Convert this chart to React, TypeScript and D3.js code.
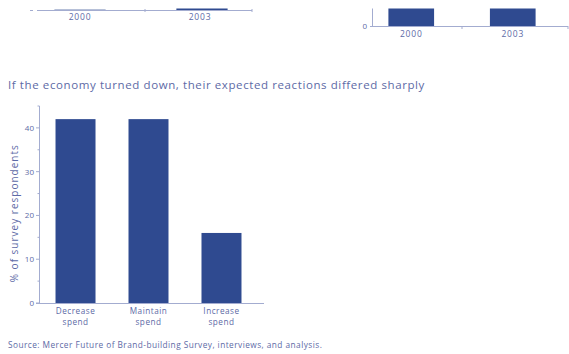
import React from "react";
import * as d3 from "d3";

const categories = ["Decrease spend", "Maintain spend", "Increase spend"];
const values = [42, 42, 16];
const yTicks = [0, 10, 20, 30, 40];
const yMinorTicks = [5, 15, 25, 35, 45];

const topYears = ["2000", "2003"];
const topLeftValues = [0.5, 1];
const topRightValues = [30, 30];

const title = "If the economy turned down, their expected reactions differed sharply";
const yLabel = "% of survey respondents";
const source = "Source: Mercer Future of Brand-building Survey, interviews, and analysis.";

const BAR = "#2f4a90";
const AXIS = "#a3acd0";
const TEXT = "#5d6aa6";
const FONT = "'Open Sans', 'Noto Sans', sans-serif";

export default function App() {
  const W = 569, H = 354;
  // main chart
  const x = d3.scaleBand<string>().domain(categories).range([38, 259]).paddingInner(0.452).paddingOuter(0.24);
  const y = d3.scaleLinear().domain([0, 45]).range([303, 106]);

  // top-left chart
  const xl = d3.scaleBand<string>().domain(topYears).range([30, 252]).paddingInner(0.58).paddingOuter(0.2);
  // top-right chart
  const xr = d3.scaleBand<string>().domain(topYears).range([361, 563]).paddingInner(0.55).paddingOuter(0.27);
  const yr = d3.scaleLinear().domain([0, 30]).range([26, -60]);
  const yl = d3.scaleLinear().domain([0, 30]).range([10, -50]);

  return (
    <svg width={W} height={H} style={{ position: "absolute", left: 0, top: 0, background: "#fff" }} fontFamily={FONT}>
      <defs>
        <clipPath id="topclip">
          <rect x={0} y={8.5} width={W} height={40} />
        </clipPath>
      </defs>
      {/* top-left fragment */}
      <g clipPath="url(#topclip)">
        {topYears.map((yr0, i) => (
          <rect key={yr0} x={xl(yr0)} width={xl.bandwidth()} y={yl(topLeftValues[i])} height={yl(0) - yl(topLeftValues[i])} fill={BAR} opacity={i === 0 ? 0.35 : 1} />
        ))}
        <line x1={30} x2={33} y1={10.5} y2={10.5} stroke={AXIS} />
        <line x1={37} x2={252} y1={10.5} y2={10.5} stroke={AXIS} />
        <line x1={145} x2={145} y1={9} y2={12} stroke={AXIS} />
        <line x1={252} x2={252} y1={9} y2={12} stroke={AXIS} />
        {topYears.map((yr0, i) => (
          <text key={yr0} x={(xl(yr0) as number) + xl.bandwidth() / 2 - (i === 1 ? 2 : 0)} y={19.5} fontSize={8.5} letterSpacing={0.8} fill={TEXT} textAnchor="middle">{yr0}</text>
        ))}
      </g>
      {/* top-right fragment */}
      <g clipPath="url(#topclip)">
        {topYears.map((yr0, i) => (
          <rect key={yr0} x={xr(yr0)} width={xr.bandwidth()} y={yr(topRightValues[i])} height={yr(0) - yr(topRightValues[i])} fill={BAR} />
        ))}
        <line x1={372.5} x2={372.5} y1={0} y2={26.5} stroke={AXIS} />
        <line x1={370} x2={568} y1={26.5} y2={26.5} stroke={AXIS} />
        <line x1={462} x2={462} y1={26} y2={29} stroke={AXIS} />
        <line x1={568} x2={568} y1={26} y2={29} stroke={AXIS} />
        <text x={367} y={28.5} fontSize={8} fill={TEXT} textAnchor="end">0</text>
        {topYears.map((yr0) => (
          <text key={yr0} x={(xr(yr0) as number) + xr.bandwidth() / 2} y={37} fontSize={8.5} letterSpacing={0.8} fill={TEXT} textAnchor="middle">{yr0}</text>
        ))}
      </g>

      {/* title */}
      <text x={8} y={89} fontSize={11.5} letterSpacing={0.6} fill={TEXT}>{title}</text>

      {/* main chart */}
      {categories.map((c, i) => (
        <rect key={c} x={x(c)} width={x.bandwidth()} y={y(values[i])} height={y(0) - y(values[i])} fill={BAR} />
      ))}
      <line x1={39.5} x2={39.5} y1={y(45)} y2={y(0)} stroke={AXIS} />
      <line x1={36} x2={264} y1={y(0) + 0.5} y2={y(0) + 0.5} stroke={AXIS} />
      {yTicks.map((t) => (
        <g key={t}>
          <line x1={36} x2={39.5} y1={y(t)} y2={y(t)} stroke={AXIS} />
          <text x={34} y={y(t) + 3} fontSize={8} fill={TEXT} textAnchor="end">{t}</text>
        </g>
      ))}
      {yMinorTicks.map((t) => (
        <line key={t} x1={37.5} x2={39.5} y1={y(t)} y2={y(t)} stroke={AXIS} />
      ))}
      <text transform={`translate(18,${y(20.5)}) rotate(-90)`} fontSize={10} letterSpacing={1} fill={TEXT} textAnchor="middle">{yLabel}</text>
      {categories.map((c) => {
        const [a, b] = c.split(" ");
        const cx = (x(c) as number) + x.bandwidth() / 2;
        return (
          <g key={c}>
            <text x={cx} y={313.5} fontSize={8.2} letterSpacing={0.5} fill={TEXT} textAnchor="middle">{a}</text>
            <text x={cx} y={324.5} fontSize={8.2} letterSpacing={0.5} fill={TEXT} textAnchor="middle">{b}</text>
          </g>
        );
      })}

      {/* source */}
      <text x={8} y={348} fontSize={8.3} letterSpacing={0.45} fill={TEXT}>{source}</text>
    </svg>
  );
}
